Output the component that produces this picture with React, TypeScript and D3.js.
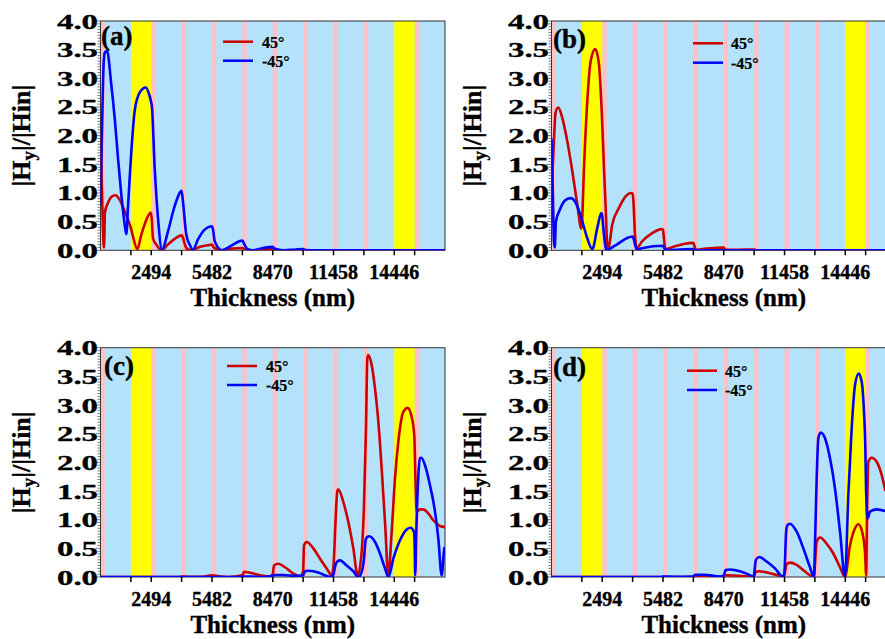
import React from 'react';
import * as d3 from 'd3';

// ---------- data ----------
const X_MAX = 16940;
const PINK_STARTS = [0, 2494, 3988, 5482, 6976, 8470, 9964, 11458, 12952, 15446];
const PINK_WIDTH = 215;
const YELLOW_BANDS: [number, number][] = [[1494, 2494], [14446, 15446]];
const X_TICKS = [1494, 2494, 3988, 5482, 6976, 8470, 9964, 11458, 12952, 14446, 15446];
const X_LABELS = [2494, 5482, 8470, 11458, 14446];
const Y_LABELS = [0, 0.5, 1.0, 1.5, 2.0, 2.5, 3.0, 3.5, 4.0];
const Y_MINOR_STEP = 0.05;
const PANEL_LABELS = ['(a)', '(b)', '(c)', '(d)'];
const SERIES_NAMES = ['45°', '-45°'];

type P = [number, number];

const aRed: P[] = [
  [0, 2.05], [60, 1.2], [120, 0.4], [165, 0.05], [195, 0.3], [216, 0.66], [369, 0.83], [531, 0.93],
  [729, 0.96], [944, 0.88], [1189, 0.68], [1435, 0.45], [1494, 0.39], [1598, 0.24], [1810, 0.02],
  [2006, 0.27], [2252, 0.53], [2468, 0.66], [2520, 0.55], [2581, 0.21], [2745, 0.1], [2990, 0.0],
  [3318, 0.1], [3646, 0.2], [3988, 0.26], [4030, 0.24], [4220, 0.04], [4466, 0.0], [4900, 0.06],
  [5300, 0.09], [5482, 0.1], [5560, 0.05], [5970, 0.0], [6500, 0.03], [6976, 0.04], [7100, 0.01],
  [7500, 0.0], [8200, 0.015], [8470, 0.02], [8600, 0.005], [9000, 0.0], [16940, 0.0],
];
const aBlue: P[] = [
  [0, 0.8], [80, 2.2], [160, 3.3], [216, 3.45], [320, 3.48], [531, 2.89], [697, 2.31], [860, 1.61],
  [1023, 0.97], [1189, 0.45], [1270, 0.28], [1350, 0.75], [1435, 1.26], [1494, 1.6], [1680, 2.43],
  [1926, 2.75], [2222, 2.84], [2418, 2.69], [2494, 2.58], [2530, 2.5], [2664, 1.44], [2827, 0.56],
  [3024, 0.01], [3318, 0.33], [3646, 0.77], [3893, 1.0], [3988, 1.04], [4040, 0.9], [4220, 0.27],
  [4385, 0.1], [4548, 0.01], [4794, 0.19], [5122, 0.36], [5482, 0.42], [5540, 0.35], [5614, 0.16],
  [5973, 0.0], [6431, 0.08], [6976, 0.17], [7050, 0.12], [7200, 0.03], [7500, 0.0], [8000, 0.04],
  [8470, 0.06], [8550, 0.03], [9000, 0.0], [9600, 0.015], [9964, 0.02], [10100, 0.005], [10500, 0.0],
  [16940, 0.0],
];
const bRed: P[] = [
  [0, 1.05], [100, 1.75], [200, 2.4], [330, 2.49], [531, 2.31], [777, 1.9], [1023, 1.38], [1268, 0.8],
  [1465, 0.38], [1494, 0.45], [1598, 1.44], [1760, 2.6], [1927, 3.3], [2150, 3.51], [2335, 3.24],
  [2468, 2.43], [2581, 1.44], [2664, 0.74], [2745, 0.08], [2800, 0.05], [2988, 0.45], [3318, 0.74],
  [3646, 0.94], [3893, 1.0], [3988, 0.99], [4030, 0.85], [4105, 0.27], [4187, 0.04], [4464, 0.16],
  [4955, 0.3], [5418, 0.37], [5482, 0.36], [5530, 0.2], [5600, 0.02], [6000, 0.06], [6500, 0.11],
  [6976, 0.13], [7050, 0.05], [7150, 0.01], [7600, 0.03], [8470, 0.05], [8550, 0.01], [9200, 0.01],
  [9964, 0.015], [10100, 0.0], [16940, 0.0],
];
const bBlue: P[] = [
  [0, 1.95], [60, 1.1], [120, 0.15], [160, 0.05], [216, 0.5], [400, 0.7], [700, 0.88], [950, 0.91],
  [1268, 0.77], [1494, 0.53], [1760, 0.21], [2006, 0.02], [2252, 0.39], [2448, 0.65], [2494, 0.6],
  [2560, 0.35], [2700, 0.01], [3205, 0.1], [3697, 0.21], [3988, 0.24], [4040, 0.2], [4187, 0.02],
  [4500, 0.04], [5000, 0.07], [5482, 0.08], [5560, 0.03], [5700, 0.005], [6976, 0.02], [7100, 0.0],
  [16940, 0.0],
];
const cRed: P[] = [
  [0, 0.0], [3900, 0.0], [3988, 0.01], [4300, 0.005], [5000, 0.005], [5482, 0.03], [5700, 0.02],
  [6300, 0.0], [6976, 0.03], [7050, 0.09], [7300, 0.08], [7843, 0.03], [8300, 0.005], [8470, 0.05],
  [8531, 0.2], [8744, 0.23], [9072, 0.17], [9482, 0.06], [9810, 0.01], [9964, 0.1], [10006, 0.55],
  [10138, 0.61], [10466, 0.5], [10794, 0.32], [11122, 0.15], [11368, 0.03], [11458, 0.2],
  [11560, 1.0], [11645, 1.5], [11690, 1.53], [11940, 1.31], [12186, 0.96], [12432, 0.5],
  [12645, 0.03], [12843, 0.44], [12952, 1.2], [13055, 2.59], [13120, 3.81], [13170, 3.87],
  [13334, 3.7], [13498, 3.29], [13662, 2.71], [13826, 1.89], [13990, 0.96], [14154, 0.03],
  [14318, 0.79], [14481, 1.72], [14645, 2.36], [14891, 2.88], [15105, 2.95], [15302, 2.79],
  [15430, 2.47], [15480, 1.8], [15547, 1.14], [15710, 1.18], [15874, 1.18], [16119, 1.11],
  [16365, 0.99], [16694, 0.89], [16940, 0.87],
];
const cBlue: P[] = [
  [0, 0.0], [6900, 0.0], [6976, 0.01], [7300, 0.01], [8000, 0.0], [8470, 0.02], [8550, 0.035],
  [9000, 0.035], [9600, 0.02], [9964, 0.03], [10050, 0.1], [10220, 0.11], [10712, 0.08],
  [11100, 0.02], [11368, 0.0], [11458, 0.05], [11532, 0.18], [11645, 0.27], [11776, 0.29],
  [12104, 0.2], [12432, 0.1], [12677, 0.0], [12843, 0.09], [12952, 0.3], [13040, 0.65],
  [13120, 0.7], [13219, 0.71], [13498, 0.61], [13744, 0.41], [13990, 0.15], [14154, 0.0],
  [14400, 0.32], [14727, 0.64], [15055, 0.83], [15252, 0.86], [15413, 0.79], [15446, 0.6],
  [15475, 0.03], [15530, 0.8], [15620, 1.7], [15710, 2.07], [15776, 2.08], [15956, 1.95],
  [16202, 1.6], [16448, 1.14], [16612, 0.67], [16776, 0.03], [16907, 0.5], [16940, 0.52],
];
const dRed: P[] = [
  [0, 0.0], [8400, 0.0], [8470, 0.01], [8600, 0.03], [9000, 0.025], [9800, 0.005], [9964, 0.02],
  [10050, 0.09], [10200, 0.1], [10700, 0.07], [11200, 0.02], [11400, 0.0], [11458, 0.05],
  [11560, 0.22], [11727, 0.25], [12056, 0.21], [12384, 0.12], [12908, 0.0], [12952, 0.2],
  [13040, 0.62], [13203, 0.69], [13531, 0.58], [13859, 0.41], [14187, 0.17], [14432, 0.0],
  [14678, 0.55], [14924, 0.85], [15088, 0.92], [15252, 0.82], [15416, 0.44], [15446, 0.2],
  [15470, 0.03], [15520, 1.2], [15580, 2.01], [15744, 2.08], [15990, 2.01], [16235, 1.78],
  [16420, 1.5],
];
const dBlue: P[] = [
  [0, 0.0], [5400, 0.0], [5482, 0.01], [6000, 0.005], [6976, 0.01], [7050, 0.04], [7500, 0.04],
  [8300, 0.01], [8470, 0.03], [8560, 0.12], [8777, 0.13], [9269, 0.1], [9760, 0.03], [9924, 0.0],
  [9964, 0.05], [10050, 0.3], [10219, 0.35], [10580, 0.27], [10990, 0.15], [11400, 0.0],
  [11458, 0.1], [11540, 0.8], [11596, 0.9], [11727, 0.93], [12056, 0.79], [12384, 0.5],
  [12711, 0.17], [12908, 0.0], [12952, 0.5], [13040, 1.72], [13120, 2.42], [13236, 2.52],
  [13449, 2.42], [13695, 2.07], [13941, 1.54], [14187, 0.79], [14432, 0.0], [14596, 1.43],
  [14760, 2.59], [14924, 3.35], [15105, 3.55], [15252, 3.41], [15366, 2.88], [15430, 2.3],
  [15470, 1.5], [15547, 1.02], [15660, 1.14], [15990, 1.18], [16420, 1.15],
];

const SERIES = [
  [aRed, aBlue],
  [bRed, bBlue],
  [cRed, cBlue],
  [dRed, dBlue],
];

// ---------- styles / layout ----------
const W = 885;
const H = 639;
const PW = 344.5;
const PH = 229.3;
const FONT = 'Liberation Serif, Times New Roman, Times, DejaVu Serif, serif';
const COLORS = ['#cc0000', '#0000ff'];
const BG_BLUE = '#b4e2fa';
const PINK = '#ffc1c8';
const YELLOW = '#ffff00';

const LAYOUT = [
  { left: 100.5, top: 21, lab: [101, 45], leg: [223, 41.7, 60.7, 262] },
  { left: 551.5, top: 21, lab: [553, 48], leg: [693, 43.3, 62.7, 731] },
  { left: 100.5, top: 347.7, lab: [104, 375], leg: [227, 366, 385, 266] },
  { left: 551.5, top: 347.7, lab: [553, 376], leg: [687, 370.7, 390, 725] },
];

const txt = { fontFamily: FONT, fontWeight: 700 as const, stroke: '#000', strokeWidth: 0.35 };

function Panel({ idx }: { idx: number }) {
  const L = LAYOUT[idx];
  const x = d3.scaleLinear().domain([0, X_MAX]).range([L.left, L.left + PW]);
  const y = d3.scaleLinear().domain([0, 4]).range([L.top + PH, L.top]);
  const line = d3
    .line<P>()
    .x((d) => x(d[0]))
    .y((d) => y(d[1]))
    .curve(d3.curveMonotoneX);
  const minor = d3.range(0, 4 + 1e-9, Y_MINOR_STEP);
  const clipId = `clip${idx}`;
  const bottom = L.top + PH;
  return (
    <g>
      <defs>
        <clipPath id={clipId}>
          <rect x={L.left} y={L.top} width={PW} height={PH} />
        </clipPath>
      </defs>
      <g clipPath={`url(#${clipId})`}>
        <rect x={L.left} y={L.top} width={PW} height={PH} fill={BG_BLUE} />
        {PINK_STARTS.map((s, i) => (
          <rect key={'p' + i} x={x(s)} y={L.top} width={x(s + PINK_WIDTH) - x(s)} height={PH} fill={PINK} />
        ))}
        {YELLOW_BANDS.map((b, i) => (
          <rect key={'y' + i} x={x(b[0])} y={L.top} width={x(b[1]) - x(b[0])} height={PH} fill={YELLOW} />
        ))}
      </g>
      <rect x={L.left} y={L.top} width={PW} height={PH} fill="none" stroke="#333" strokeWidth={1} />
      <g clipPath={`url(#${clipId})`}>
        {SERIES[idx].map((s, i) => (
          <path key={i} d={line(s) || ''} fill="none" stroke={COLORS[i]} strokeWidth={2.6} strokeLinejoin="round" />
        ))}
      </g>
      {minor.map((v, i) => {
        const major = Math.abs(v * 2 - Math.round(v * 2)) < 1e-6;
        return (
          <line key={'ym' + i} x1={L.left - (major ? 5 : 3)} x2={L.left} y1={y(v)} y2={y(v)} stroke="#555" strokeWidth={0.8} />
        );
      })}
      {Y_LABELS.map((v, i) => (
        <text key={'yl' + i} x={L.left - 43.5} y={y(v) + 7.5} fontSize={22} style={txt}
          textLength={41} lengthAdjust="spacingAndGlyphs">
          {v.toFixed(1)}
        </text>
      ))}
      {X_TICKS.map((t, i) => (
        <line key={'xt' + i} x1={x(t)} x2={x(t)} y1={bottom} y2={bottom + 5} stroke="#000" strokeWidth={1.5} />
      ))}
      {X_LABELS.map((t, i) => (
        <text key={'xl' + i} x={x(t)} y={bottom + 29} textAnchor="middle" fontSize={20} style={txt}>
          {t}
        </text>
      ))}
      <text x={L.left + PW / 2} y={bottom + 56} textAnchor="middle" fontSize={25} style={txt}>
        Thickness (nm)
      </text>
      <text transform={`translate(${L.left - 70.5},${L.top + PH / 2}) rotate(-90)`} textAnchor="middle"
        fontSize={26} style={txt}>
        |H<tspan dy={5} fontSize={19}>y</tspan><tspan dy={-5}>|/|Hin|</tspan>
      </text>
      <text x={L.lab[0]} y={L.lab[1]} fontSize={27} style={txt}>
        {PANEL_LABELS[idx]}
      </text>
      {SERIES_NAMES.map((n, i) => (
        <g key={'lg' + i}>
          <line x1={L.leg[0]} x2={L.leg[0] + 30} y1={L.leg[1 + i]} y2={L.leg[1 + i]} stroke={COLORS[i]} strokeWidth={2.5} />
          <text x={L.leg[3]} y={L.leg[1 + i] + 6} fontSize={16} style={{ ...txt, strokeWidth: 0.2 }}>
            {n}
          </text>
        </g>
      ))}
    </g>
  );
}

export default function App() {
  return (
    <svg width={W} height={H} style={{ position: 'absolute', left: 0, top: 0, background: '#fff' }}>
      {[0, 1, 2, 3].map((i) => (
        <Panel key={i} idx={i} />
      ))}
    </svg>
  );
}
